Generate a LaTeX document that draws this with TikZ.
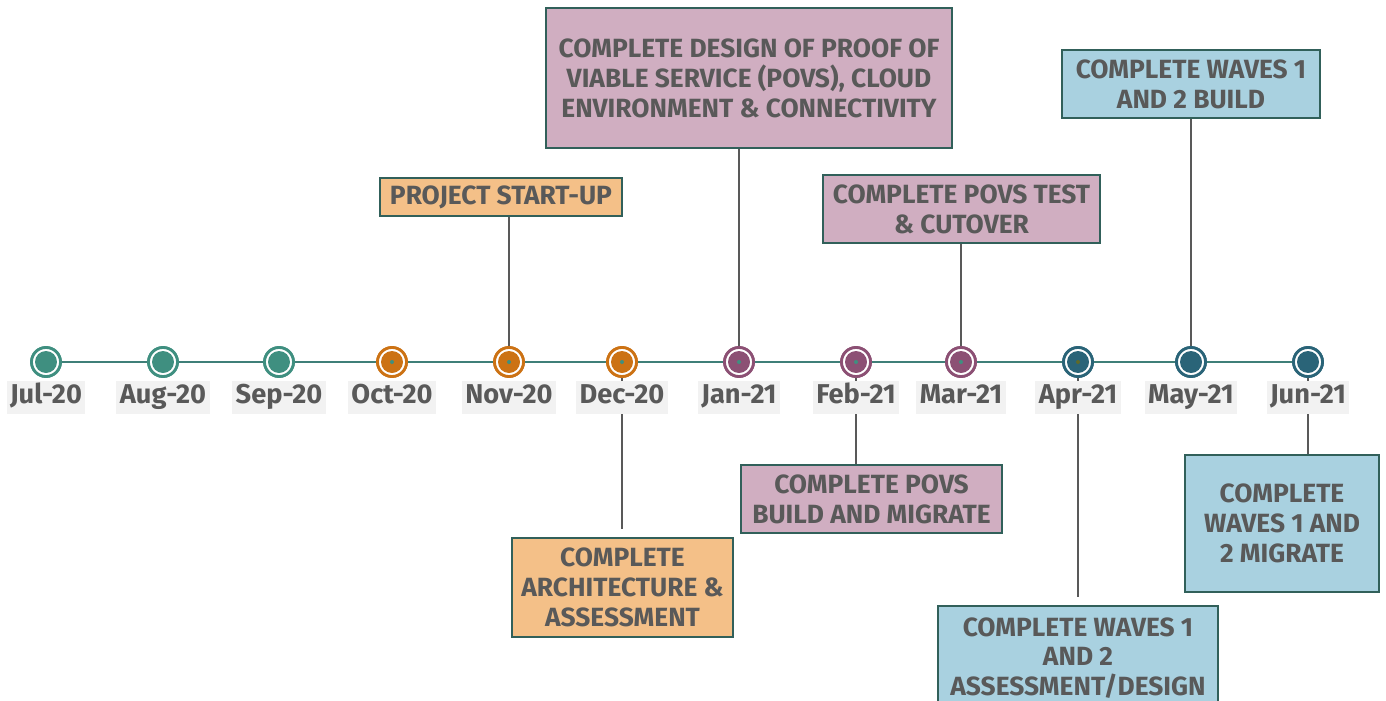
\documentclass[tikz,border=0pt]{standalone}
\usepackage{fontspec}
\setmainfont{Fira Sans}
\usetikzlibrary{positioning}
\definecolor{txtgray}{HTML}{595959}
\definecolor{lblgray}{HTML}{F2F2F2}
\definecolor{edgeteal}{HTML}{31605A}
\definecolor{lineteal}{HTML}{3F7F78}
\definecolor{cteal}{HTML}{3F8F80}
\definecolor{corange}{HTML}{CC7214}
\definecolor{cpurple}{HTML}{8C5074}
\definecolor{cblue}{HTML}{2A6478}
\definecolor{colive}{HTML}{5E6A2A}
\definecolor{forange}{HTML}{F4C088}
\definecolor{fpink}{HTML}{D0AEC1}
\definecolor{fblue}{HTML}{A9D1E0}

\begin{document}
\begin{tikzpicture}[x=0.02cm,y=-0.02cm,
		mk/.style={circle, draw=#1, fill=white, line width=1.6pt, minimum size=0.58cm, inner sep=0pt,
			path picture={\fill[#1] (path picture bounding box.center) circle (0.22cm);}},
		month/.style={fill=lblgray, text=txtgray, font=\fontsize{15.5}{17}\selectfont\bfseries, inner xsep=2pt,
			inner ysep=0pt, text height=0.69em, text depth=0pt, minimum height=0.66cm},
		callout/.style={draw=edgeteal, line width=0.8pt, fill=#1, text=txtgray, align=center,
			font=\fontsize{15}{17}\selectfont\bfseries, inner sep=0pt},
		conn/.style={draw=txtgray, line width=0.9pt},
		timeline/.style={draw=lineteal, line width=1.1pt}]
	\useasboundingbox (0,0) rectangle (1386,700);
	\node[mk=cteal] (m1) at (46,362) {};
	\node[mk=cteal] (m2) at (163,362) {};
	\node[mk=cteal] (m3) at (279,362) {};
	\node[mk=corange] (m4) at (392,362) {};
	\node[mk=corange] (m5) at (509,362) {};
	\node[mk=corange] (m6) at (622,362) {};
	\node[mk=cpurple] (m7) at (739,362) {};
	\node[mk=cpurple] (m8) at (856,362) {};
	\node[mk=cpurple] (m9) at (961,362) {};
	\node[mk=cblue] (m10) at (1078,362) {};
	\node[mk=cblue] (m11) at (1191,362) {};
	\node[mk=cblue] (m12) at (1308,362) {};

	\node[callout=forange, minimum width=242*0.02cm, minimum height=38*0.02cm] (start) at (501,197) {PROJECT START-UP};
	\node[callout=fpink, minimum width=406*0.02cm, minimum height=140*0.02cm] (design) at (749,78)
		{COMPLETE DESIGN OF PROOF OF\\VIABLE SERVICE (POVS), CLOUD\\ENVIRONMENT \& CONNECTIVITY};
	\node[callout=fpink, minimum width=277*0.02cm, minimum height=68*0.02cm] (test) at (961.5,209)
		{COMPLETE POVS TEST\\\& CUTOVER};
	\node[callout=fblue, minimum width=258*0.02cm, minimum height=68*0.02cm] (build) at (1191,84)
		{COMPLETE WAVES 1\\AND 2 BUILD};
	\node[callout=forange, minimum width=221*0.02cm, minimum height=99*0.02cm] (arch) at (622.5,587.5)
		{COMPLETE\\ARCHITECTURE \&\\ASSESSMENT};
	\node[callout=fpink, minimum width=261*0.02cm, minimum height=68*0.02cm] (migpovs) at (871.5,499)
		{COMPLETE POVS\\BUILD AND MIGRATE};
	\node[callout=fblue, minimum width=280*0.02cm, minimum height=104*0.02cm] (assess) at (1078,658)
		{COMPLETE WAVES 1\\AND 2\\ASSESSMENT/DESIGN};
	\node[callout=fblue, minimum width=194*0.02cm, minimum height=137*0.02cm] (migwave) at (1282,523.5)
		{COMPLETE\\WAVES 1 AND\\2 MIGRATE};

	\path[conn] (m5.center) -- (m5.center |- start.south);
	\path[conn] (m7.center) -- (m7.center |- design.south);
	\path[conn] (m9.center) -- (m9.center |- test.south);
	\path[conn] (m11.center) -- (m11.center |- build.south);
	\path[conn, shorten >=8*0.02cm] (m6.center) -- (m6.center |- arch.north);
	\path[conn] (m8.center) -- (m8.center |- migpovs.north);
	\path[conn, shorten >=8*0.02cm] (m10.center) -- (m10.center |- assess.north);
	\path[conn] (m12.center) -- (m12.center |- migwave.north);
	\path[timeline] (m1) -- (m2) -- (m3) -- (m4) -- (m5) -- (m6) -- (m7) -- (m8) -- (m9) -- (m10) -- (m11) -- (m12);

	\node[mk=cteal] at (m1) {};
	\node[mk=cteal] at (m2) {};
	\node[mk=cteal] at (m3) {};
	\node[mk=corange] at (m4) {};
	\node[mk=corange] at (m5) {};
	\node[mk=corange] at (m6) {};
	\node[mk=cpurple] at (m7) {};
	\node[mk=cpurple] at (m8) {};
	\node[mk=cpurple] at (m9) {};
	\node[mk=cblue] at (m10) {};
	\node[mk=cblue] at (m11) {};
	\node[mk=cblue] at (m12) {};
	\foreach \m in {m4,m5,m6,m7,m8,m9}
		\fill[cteal] (\m) circle (0.04cm);
	\fill[colive] (m10) circle (0.04cm);

	\node[month] (l1) at (46,397) {Jul-20};
	\node[month] (l2) at (163,397) {Aug-20};
	\node[month] (l3) at (279,397) {Sep-20};
	\node[month] (l4) at (392,397) {Oct-20};
	\node[month] (l5) at (509,397) {Nov-20};
	\node[month] (l6) at (622,397) {Dec-20};
	\node[month] (l7) at (739,397) {Jan-21};
	\node[month] (l8) at (856,397) {Feb-21};
	\node[month] (l9) at (961,397) {Mar-21};
	\node[month] (l10) at (1078,397) {Apr-21};
	\node[month] (l11) at (1191,397) {May-21};
	\node[month] (l12) at (1308,397) {Jun-21};
\end{tikzpicture}
\end{document}
